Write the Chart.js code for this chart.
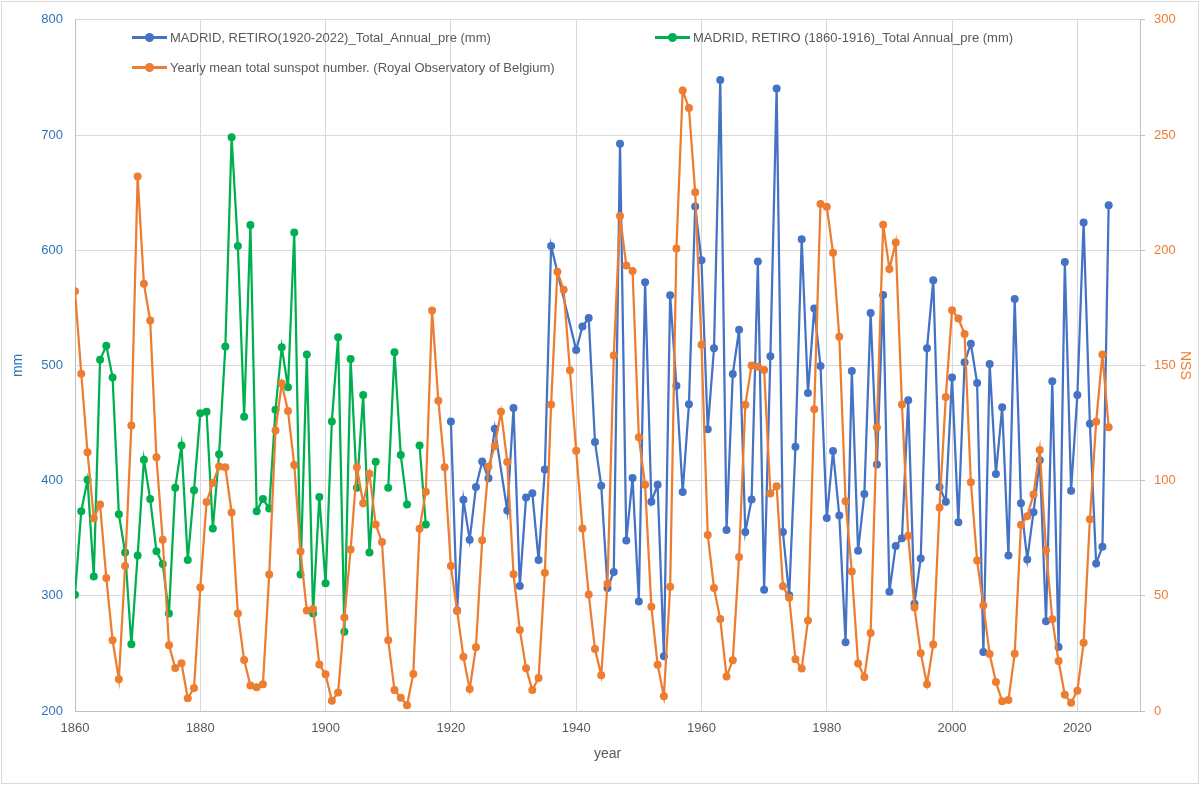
<!DOCTYPE html>
<html>
<head>
<meta charset="utf-8">
<script src="https://cdn.jsdelivr.net/npm/chart.js@4.4.1/dist/chart.umd.min.js"></script>
<style>
    body { margin: 0; background: #fff; }
    #wrap { position: relative; width: 1200px; height: 785px; }
    #frame {
        position: absolute; left: 1px; top: 1px; width: 1196px; height: 781px;
        border: 1px solid #D9D9D9; pointer-events: none;
    }
    .leg {
        position: absolute; display: flex; align-items: center; height: 18px;
        font: 13px 'Liberation Sans', Arial, sans-serif; color: #595959; white-space: nowrap;
    }
    .sym { position: relative; width: 35px; height: 18px; margin-right: 3px; }
    .sym::before {
        content: ''; position: absolute; left: 0; right: 0; top: 8px; height: 2.5px; background: var(--c);
    }
    .sym::after {
        content: ''; position: absolute; left: 13px; top: 4.5px; width: 9px; height: 9px;
        border-radius: 50%; background: var(--c);
    }
</style>
</head>
<body>
<div id="wrap">
    <canvas id="chart" width="1200" height="785"></canvas>
    <div class="leg" style="left:132px; top:28px;"><span class="sym" style="--c:#4472C4"></span>MADRID, RETIRO(1920-2022)_Total_Annual_pre (mm)</div>
    <div class="leg" style="left:655px; top:28px;"><span class="sym" style="--c:#00B050"></span>MADRID, RETIRO (1860-1916)_Total Annual_pre (mm)</div>
    <div class="leg" style="left:132px; top:58px;"><span class="sym" style="--c:#ED7D31"></span>Yearly mean total sunspot number. (Royal Observatory of Belgium)</div>
    <div id="frame"></div>
</div>
<script>
// Yearly mean total sunspot number, 1860 .. 2025
const sunspotStart = 1860;
const sunspotValues = [
    182.2, 146.4, 112.3, 83.7, 89.6, 57.7, 30.7, 13.8, 62.9, 123.9,
    232.0, 185.4, 169.5, 110.1, 74.3, 28.5, 18.7, 20.7, 5.5, 10.0,
    53.6, 90.7, 99.0, 106.1, 105.8, 86.2, 42.3, 22.1, 11.1, 10.3,
    11.6, 59.2, 121.7, 142.1, 130.2, 106.8, 69.2, 43.6, 44.3, 20.2,
    15.9, 4.5, 8.0, 40.6, 70.1, 105.8, 90.2, 103.0, 80.9, 73.3,
    30.7, 9.1, 5.8, 2.5, 16.1, 79.1, 95.2, 173.8, 134.7, 105.8,
    62.9, 43.4, 23.5, 9.5, 27.7, 74.1, 106.1, 114.9, 129.9, 108.1,
    59.4, 35.2, 18.6, 9.1, 14.3, 60.0, 133.0, 190.7, 182.8, 147.9,
    113.0, 79.2, 50.6, 26.9, 15.5, 55.2, 154.3, 214.8, 193.4, 191.0,
    118.8, 98.2, 45.2, 20.1, 6.4, 53.9, 200.7, 269.3, 261.7, 225.1,
    159.0, 76.4, 53.4, 39.9, 15.0, 22.0, 66.8, 132.9, 150.0, 149.4,
    148.0, 94.4, 97.6, 54.1, 49.2, 22.5, 18.4, 39.3, 131.0, 220.1,
    218.9, 198.9, 162.4, 91.0, 60.5, 20.6, 14.8, 33.9, 123.0, 211.1,
    191.8, 203.3, 133.0, 76.1, 44.9, 25.1, 11.6, 28.9, 88.3, 136.3,
    173.9, 170.4, 163.6, 99.3, 65.3, 45.8, 24.7, 12.6, 4.2, 4.8,
    24.9, 80.8, 84.5, 94.0, 113.3, 69.8, 39.8, 21.7, 7.0, 3.6,
    8.8, 29.6, 83.2, 125.5, 154.7, 123.2
];

// Madrid Retiro 1860-1916 (null = no data)
const oldStart = 1860;
const oldRain = [
    301, 373.5, 400.7, 316.7, 504.8, 517, 489.6, 370.8, 337.6, 258,
    335, 418.2, 384, 338.6, 327.7, 284.6, 393.7, 430.5, 331, 391.7,
    458.4, 459.7, 358.5, 422.9, 516.4, 698, 603.6, 455.4, 621.9, 373.5,
    384, 375.8, 461.4, 515.8, 481, 615.3, 318.4, 509.5, 284.6, 385.7,
    311, 451.4, 524.4, 268.7, 505.5, 393.7, 474.3, 337.6, 416.3, null,
    393.7, 511.4, 422.2, 379.3, null, 430.5, 361.8
];

// Madrid Retiro 1920-2025
const newYears = [
    1920, 1921, 1922, 1923, 1924, 1925, 1926, 1927, 1929,
    1930, 1931, 1932, 1933, 1934, 1935, 1936,
    1940, 1941, 1942, 1943, 1944, 1945, 1946, 1947, 1948, 1949,
    1950, 1951, 1952, 1953, 1954, 1955, 1956, 1957, 1958, 1959,
    1960, 1961, 1962, 1963, 1964, 1965, 1966, 1967, 1968, 1969,
    1970, 1971, 1972, 1973, 1974, 1975, 1976, 1977, 1978, 1979,
    1980, 1981, 1982, 1983, 1984, 1985, 1986, 1987, 1988, 1989,
    1990, 1991, 1992, 1993, 1994, 1995, 1996, 1997, 1998, 1999,
    2000, 2001, 2002, 2003, 2004, 2005, 2006, 2007, 2008, 2009,
    2010, 2011, 2012, 2013, 2014, 2015, 2016, 2017, 2018, 2019,
    2020, 2021, 2022, 2023, 2024, 2025
];
const newRain = [
    451.4, 287.2, 383.4, 348.6, 394.4, 416.6, 402.0, 445.1, 374.0,
    463.0, 308.5, 385.4, 389.0, 331.0, 409.6, 603.6,
    513.3, 533.8, 541.1, 433.6, 395.6, 306.8, 320.7, 692.5, 348.1, 402.2,
    295.1, 572.2, 381.7, 396.3, 247.5, 560.9, 482.3, 390.1, 466.2, 638.0,
    591.2, 444.6, 514.8, 747.7, 357.2, 492.5, 530.9, 355.4, 383.5, 590.1,
    305.3, 507.9, 740.4, 355.4, 300.5, 429.3, 609.5, 476.0, 549.5, 499.5,
    367.5, 425.6, 369.7, 259.6, 495.1, 339.0, 388.3, 545.5, 413.9, 561.2,
    303.5, 343.3, 349.9, 469.8, 293.2, 332.4, 514.8, 574.0, 394.5, 381.7,
    489.6, 363.8, 502.7, 518.8, 484.8, 251.2, 501.3, 405.8, 463.6, 334.9,
    557.6, 380.3, 331.6, 372.6, 417.6, 277.9, 486.3, 255.6, 589.8, 391.2,
    474.2, 624.1, 449.4, 328.0, 342.6, 639.1
];

const tickFont = { family: "'Liberation Sans', Arial, sans-serif", size: 13 };

function lineSet(label, data, color, axis, order) {
    return {
        label: label,
        data: data,
        yAxisID: axis,
        borderColor: color,
        backgroundColor: color,
        pointBackgroundColor: color,
        pointBorderColor: color,
        borderWidth: 2.25,
        pointRadius: 4,
        pointBorderWidth: 0,
        tension: 0,
        spanGaps: false,
        order: order
    };
}

const sunspotPoints = sunspotValues.map((v, i) => ({ x: sunspotStart + i, y: v }));
const oldPoints = oldRain.map((v, i) => ({ x: oldStart + i, y: v }));
const newPoints = newYears.map((yr, i) => ({ x: yr, y: newRain[i] }));

new Chart(document.getElementById('chart'), {
    type: 'line',
    data: {
        datasets: [
            lineSet('MADRID, RETIRO(1920-2022)_Total_Annual_pre (mm)', newPoints, '#4472C4', 'y', 1),
            lineSet('MADRID, RETIRO (1860-1916)_Total Annual_pre (mm)', oldPoints, '#00B050', 'y', 2),
            lineSet('Yearly mean total sunspot number. (Royal Observatory of Belgium)', sunspotPoints, '#ED7D31', 'y2', 0)
        ]
    },
    options: {
        responsive: false,
        animation: false,
        layout: { padding: { top: 19, left: 0, right: 0, bottom: 0 } },
        plugins: {
            legend: { display: false },
            tooltip: { enabled: false }
        },
        scales: {
            x: {
                type: 'linear',
                min: 1860,
                max: 2030,
                afterBuildTicks: axis => {
                    axis.ticks = axis.ticks.filter(t => (t.value - 1860) % 20 === 0);
                },
                afterFit: axis => { axis.height = 74; },
                ticks: {
                    stepSize: 20,
                    color: '#595959',
                    font: tickFont,
                    padding: 10,
                    maxRotation: 0,
                    callback: v => String(v)
                },
                grid: { color: '#D9D9D9', drawTicks: false },
                border: { display: true, color: '#BFBFBF' },
                title: {
                    display: true,
                    text: 'year',
                    color: '#595959',
                    font: { family: tickFont.family, size: 14 },
                    padding: { top: 4, bottom: 22 }
                }
            },
            y: {
                position: 'left',
                min: 200,
                max: 800,
                afterFit: axis => { axis.width = 75; },
                ticks: { stepSize: 100, color: '#2E75B6', font: tickFont, padding: 12 },
                grid: { color: '#D9D9D9', drawTicks: false },
                border: { display: true, color: '#BFBFBF' },
                title: {
                    display: true,
                    text: 'mm',
                    color: '#2E75B6',
                    font: { family: tickFont.family, size: 14 },
                    padding: { top: 10, bottom: 0 }
                }
            },
            y2: {
                position: 'right',
                min: 0,
                max: 300,
                afterFit: axis => { axis.width = 60; },
                ticks: { stepSize: 50, color: '#ED7D31', font: tickFont, padding: 9 },
                grid: { drawOnChartArea: false, color: '#BFBFBF', tickLength: 5 },
                border: { display: true, color: '#BFBFBF' },
                title: {
                    display: true,
                    text: 'NSS',
                    color: '#ED7D31',
                    font: { family: tickFont.family, size: 14 },
                    padding: { top: 7, bottom: 0 }
                }
            }
        }
    }
});
</script>
</body>
</html>
